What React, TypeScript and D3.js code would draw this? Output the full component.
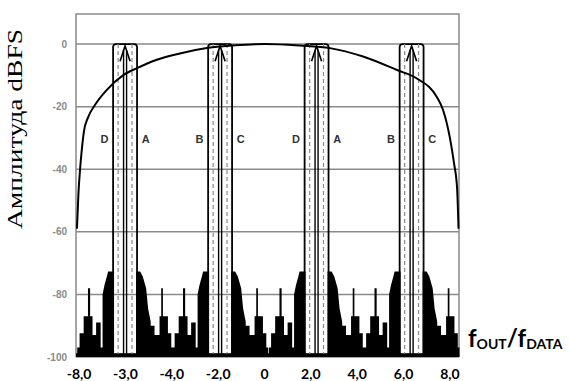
import React from 'react';
import * as d3 from 'd3';

const W = 570;
const H = 381;

// y axis, dBFS
const yTicks = [0, -20, -40, -60, -80, -100];
// x axis labels as printed on the original
const xLabels = ['-8,0', '-3,0', '-4,0', '-2,0', '0', '2,0', '4,0', '6,0', '8,0'];

// image bands: centre frequency and the letters either side
const bandCenters = [-5.95, -1.98, 2.05, 6.02];
const bandLeft = ['D', 'B', 'D', 'B'];
const bandRight = ['A', 'C', 'A', 'C'];

// sin(x)/x envelope: [f, dB]
const envelope: [number, number][] = [
  [-7.96, -59], [-7.9, -48], [-7.83, -40], [-7.76, -34], [-7.67, -28],
  [-7.5, -23.5], [-7.21, -19.5], [-6.72, -14.7], [-6.04, -10], [-5.45, -7.7],
  [-4.62, -5], [-3.66, -3], [-2.53, -1.3], [-1.36, -0.4], [-0.11, 0],
  [1.36, -0.5], [2.61, -1.3], [3.99, -4], [5.41, -8.3], [6.24, -11],
  [7.08, -17], [7.33, -21], [7.62, -30], [7.79, -38], [7.92, -46], [7.98, -59],
];

// noise floor around one band: [offset from band centre, dB]
const skirt: [number, number][] = [
  [-2.0, -97], [-1.9, -97], [-1.9, -92.4], [-1.73, -92.4], [-1.73, -87],
  [-1.55, -87], [-1.55, -78], [-1.46, -78], [-1.46, -87], [-1.36, -87],
  [-1.36, -93], [-1.21, -93], [-1.21, -89], [-1.02, -89], [-1.02, -97],
  [-0.94, -97], [-0.94, -80], [-0.86, -77], [-0.77, -74.5], [-0.71, -72.7],
  [-0.46, -72.7], [-0.46, -99], [0.46, -99], [0.46, -72.7], [0.63, -72.7],
  [0.74, -74.3], [0.88, -78], [0.96, -84.4], [1.07, -88.7], [1.07, -90],
  [1.23, -90], [1.23, -93], [1.44, -93], [1.44, -87], [1.51, -87],
  [1.51, -78], [1.58, -78], [1.58, -87], [1.79, -87], [1.79, -92.4],
  [1.93, -92.4], [1.93, -97], [2.0, -97],
];

const x = d3.scaleLinear().domain([-8, 8]).range([76, 459]);
const y = d3.scaleLinear().domain([-100, 9.6]).range([357, 14]);
const xl = d3.scalePoint<string>().domain(xLabels).range([x(-7.87), x(7.62)]);

const envLine = d3.line<[number, number]>()
  .x(d => x(d[0]))
  .y(d => y(d[1]))
  .curve(d3.curveMonotoneX);

const skirtArea = (c: number) => d3.area<[number, number]>()
  .x(d => x(c + d[0]))
  .y0(y(-100))
  .y1(d => y(d[1]))(skirt) || '';

const App: React.FC = () => {
  const grid = '#8a8a8a';
  return (
    <svg width={W} height={H} viewBox={`0 0 ${W} ${H}`}
      style={{ position: 'absolute', left: 0, top: 0, background: '#fff' }}>
      {/* gridlines */}
      {yTicks.map(t => (
        <line key={t} x1={x(-8)} x2={x(8)} y1={y(t)} y2={y(t)} stroke={grid} strokeWidth={1.5} />
      ))}
      {/* frame */}
      <path d={`M${x(-8)},${y(-100)}V${y(9.6)}H${x(8)}V${y(-100)}`} fill="none" stroke={grid} strokeWidth={1.5} />

      {/* noise floor */}
      {bandCenters.map(c => (
        <path key={c} d={skirtArea(c)} fill="#000" />
      ))}
      <rect x={x(-8)} y={y(-98.8)} width={x(8) - x(-8)} height={y(-100) - y(-98.8)} fill="#000" />

      {/* bands */}
      {bandCenters.map((c, i) => (
        <g key={c}>
          <path d={`M${x(c - 0.5)},${y(-99)}V${y(0) + 3}Q${x(c - 0.5)},${y(0)} ${x(c - 0.5) + 3},${y(0)}H${x(c + 0.5) - 3}Q${x(c + 0.5)},${y(0)} ${x(c + 0.5)},${y(0) + 3}V${y(-99)}`}
            fill="none" stroke="#000" strokeWidth={1.8} />
          {[-0.29, 0.29].map(o => (
            <line key={o} x1={x(c + o)} x2={x(c + o)} y1={y(0)} y2={y(-99)}
              stroke="#8a8a8a" strokeWidth={1.2} strokeDasharray="4,3" />
          ))}
          {[-0.063, 0.063].map(o => (
            <line key={o} x1={x(c + o)} x2={x(c + o)} y1={y(-2)} y2={y(-99)}
              stroke="#000" strokeWidth={1.4} />
          ))}
          <path d={`M${x(c - 0.21)},${y(-5.5)}L${x(c)},${y(-0.6)}L${x(c + 0.21)},${y(-5.5)}`}
            fill="none" stroke="#000" strokeWidth={1.6} />
          <text x={x(c - 0.86)} y={y(-30.5)} dy="0.35em" textAnchor="middle"
            fontFamily="Liberation Sans" fontWeight="bold" fontSize={11} fill="#333">{bandLeft[i]}</text>
          <text x={x(c + 0.86)} y={y(-30.5)} dy="0.35em" textAnchor="middle"
            fontFamily="Liberation Sans" fontWeight="bold" fontSize={11} fill="#333">{bandRight[i]}</text>
        </g>
      ))}

      {/* envelope */}
      <path d={envLine(envelope) || ''} fill="none" stroke="#000" strokeWidth={2} />

      {/* y tick labels */}
      {yTicks.map(t => (
        <text key={t} x={67} y={y(t)} dy="0.35em" textAnchor="end"
          fontFamily="Liberation Sans" fontWeight="bold" fontSize={10} fill="#8a8a8a">{t}</text>
      ))}
      {/* x tick labels */}
      {xLabels.map(l => (
        <text key={l} x={xl(l)} y={379} textAnchor="middle"
          fontFamily="Lato" fontWeight="bold" fontSize={14} fill="#000">{l}</text>
      ))}

      <text transform={`translate(22,129) rotate(-90)`} textAnchor="middle"
        fontFamily="Liberation Serif" fontSize={21} fill="#000"
        textLength={200} lengthAdjust="spacingAndGlyphs">Амплитуда dBFS</text>

      <text x={468} y={347} fontFamily="Lato" fontWeight="bold" fontSize={24} fill="#000">
        f<tspan fontSize={14} dy={2}>OUT</tspan><tspan fontSize={24} dy={-2}>/f</tspan><tspan fontSize={14} dy={2}>DATA</tspan>
      </text>
    </svg>
  );
};

export default App;
